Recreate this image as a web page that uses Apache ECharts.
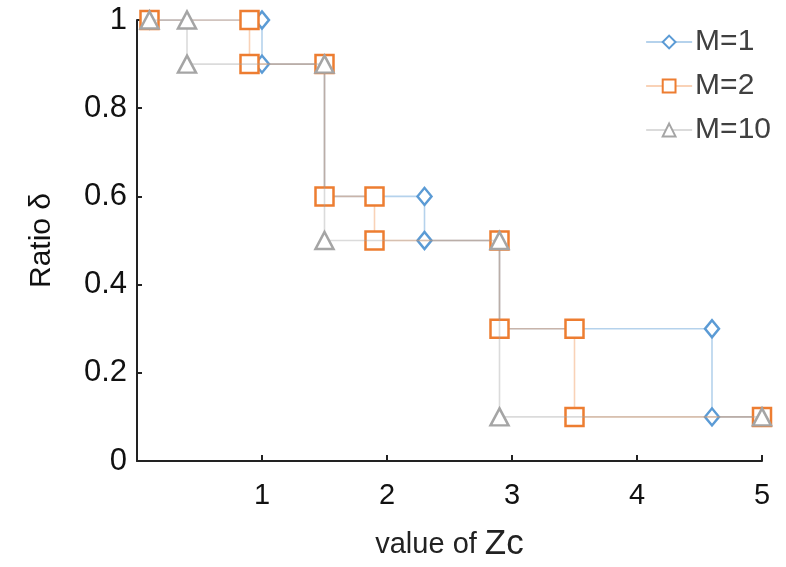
<!DOCTYPE html>
<html><head><meta charset="utf-8">
<script src="https://cdn.jsdelivr.net/npm/echarts@6/dist/echarts.min.js"></script>
<style>html,body{margin:0;padding:0;background:#fff}#c{width:786px;height:567px}</style>
</head><body><div id="c"></div>
<script>
const seriesNames = ['M=1', 'M=2', 'M=10'];
const m1X = [0.1, 1.0, 1.0, 1.5, 1.5, 2.3, 2.3, 2.9, 2.9, 4.6, 4.6, 5.0];
const m1Y = [1.0, 1.0, 0.9, 0.9, 0.6, 0.6, 0.5, 0.5, 0.3, 0.3, 0.1, 0.1];
const m2X = [0.1, 0.9, 0.9, 1.5, 1.5, 1.9, 1.9, 2.9, 2.9, 3.5, 3.5, 5.0];
const m2Y = [1.0, 1.0, 0.9, 0.9, 0.6, 0.6, 0.5, 0.5, 0.3, 0.3, 0.1, 0.1];
const m10X = [0.1, 0.4, 0.4, 1.5, 1.5, 2.9, 2.9, 5.0];
const m10Y = [1.0, 1.0, 0.9, 0.9, 0.5, 0.5, 0.1, 0.1];
const xTicks = [1, 2, 3, 4, 5];
const yTicks = [0, 0.2, 0.4, 0.6, 0.8, 1];

const zip = (xs, ys) => xs.map((x, i) => [x, ys[i]]);
const colors = ['#5b9bd5', '#ed7d31', '#a5a5a5'];
const lineColors = ['rgba(91,155,213,0.45)', 'rgba(237,125,49,0.35)', 'rgba(165,165,165,0.4)'];
const symbols = ['diamond', 'rect', 'triangle'];
const sizes = [[14, 17], [18, 18], [18, 17]];
const datas = [zip(m1X, m1Y), zip(m2X, m2Y), zip(m10X, m10Y)];
const FONT = 'Liberation Sans, Arial, sans-serif';

const chart = echarts.init(document.getElementById('c'));
chart.setOption({
  animation: false,
  grid: { left: 137, right: 24, top: 20, bottom: 101 },
  legend: {
    orient: 'vertical', right: 10, top: 22, itemGap: 14,
    itemWidth: 46, itemHeight: 16,
    textStyle: { fontFamily: FONT, fontSize: 30, color: '#404040', padding: [0, 0, 0, -2] },
    data: seriesNames
  },
  xAxis: {
    type: 'value', min: 0, max: 5, interval: 1,
    name: '{a|value of }{b|Zc}', nameLocation: 'middle', nameGap: 66,
    nameTextStyle: {
      rich: {
        a: { fontFamily: FONT, fontSize: 29, color: '#222' },
        b: { fontFamily: FONT, fontSize: 35, color: '#222' }
      }
    },
    axisLine: { lineStyle: { color: '#222', width: 2 } },
    axisTick: { inside: true, length: 6, lineStyle: { color: '#222', width: 2 } },
    axisLabel: {
      margin: 20, fontFamily: FONT, fontSize: 29, color: '#111',
      formatter: v => (xTicks.indexOf(v) >= 0 ? String(v) : '')
    },
    splitLine: { show: false }
  },
  yAxis: {
    type: 'value', min: 0, max: 1, interval: 0.2,
    name: 'Ratio δ', nameLocation: 'middle', nameGap: 80, nameRotate: 90,
    nameTextStyle: { fontFamily: FONT, fontSize: 30, color: '#111' },
    axisLine: { show: true, lineStyle: { color: '#222', width: 2 } },
    axisTick: { show: true, inside: true, length: 5, lineStyle: { color: '#222', width: 2 } },
    axisLabel: {
      margin: 10, fontFamily: FONT, fontSize: 31, color: '#111',
      formatter: v => {
        const t = yTicks.find(k => Math.abs(k - v) < 1e-9);
        return t === undefined ? '' : String(t);
      }
    },
    splitLine: { show: false }
  },
  series: seriesNames.map((n, i) => ({
    name: n, type: 'line', data: datas[i],
    symbol: symbols[i], symbolSize: sizes[i], showAllSymbol: true,
    itemStyle: { color: '#fff', borderColor: colors[i], borderWidth: 2.5 },
    lineStyle: { color: lineColors[i], width: 1.6 },
    z: 2 + i
  }))
});
</script></body></html>
